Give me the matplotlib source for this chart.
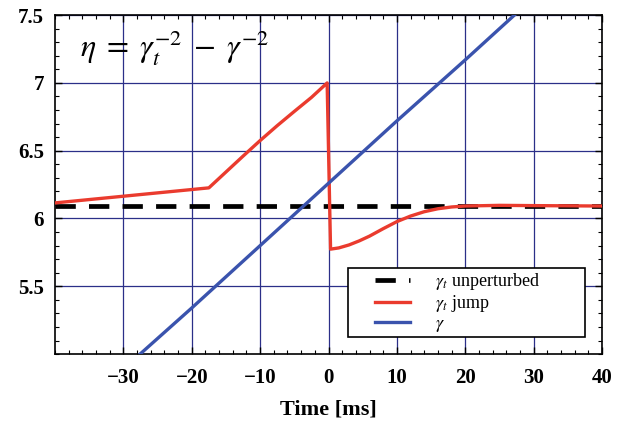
import matplotlib
matplotlib.use("Agg")
import matplotlib.pyplot as plt
from matplotlib.patches import Rectangle
from matplotlib.ticker import MultipleLocator

plt.rcParams['font.family'] = ['Liberation Serif', 'DejaVu Serif']
plt.rcParams['mathtext.fontset'] = 'stix'

# gamma_t unperturbed (flat)
t_unpert = [-40, 40]
eta_unpert = [6.092, 6.092]

# gamma_t with the jump at t = 0
t_jump = [-40, -17.5, -15, -12.5, -10, -7.5, -5, -2.5, -0.2,
          0.3, 1.5, 3, 4.5, 6, 8, 10, 12, 14, 16, 18, 20, 25, 30, 40]
eta_jump = [6.115, 6.226, 6.343, 6.46, 6.575, 6.685, 6.79, 6.893, 7.0,
            5.774, 5.783, 5.805, 5.835, 5.87, 5.925, 5.977, 6.018, 6.05,
            6.072, 6.085, 6.092, 6.097, 6.095, 6.092]

# gamma (linear ramp)
t_gamma = [-30, -20, -10, 0, 10, 20, 30]
gamma = [4.89, 5.34, 5.80, 6.26, 6.72, 7.17, 7.63]

xticks = [-30, -20, -10, 0, 10, 20, 30, 40]
yticks = [5.5, 6, 6.5, 7, 7.5]
yticklabels = ["5.5", "6", "6.5", "7", "7.5"]

red = "#ea3b2e"
blue = "#3a53ad"
navy = "#2b2f88"

fig = plt.figure(figsize=(6.23, 4.21), dpi=100)
ax = fig.add_axes([0.0883, 0.159, 0.878, 0.805])

ax.plot(t_unpert, eta_unpert, color="black", lw=3.4, dashes=(4.3, 2.8),
        label=r"$\gamma_t$ unperturbed", zorder=3)
ax.plot(t_jump, eta_jump, color=red, lw=2.4, label=r"$\gamma_t$ jump",
        zorder=4)
ax.plot(t_gamma, gamma, color=blue, lw=2.4, label=r"$\gamma$", zorder=4)

ax.set_xlim(-40, 40)
ax.set_ylim(5.0, 7.5)
ax.set_xticks(xticks)
ax.set_yticks(yticks)
ax.set_yticklabels(yticklabels)
ax.xaxis.set_minor_locator(MultipleLocator(2))
ax.yaxis.set_minor_locator(MultipleLocator(0.1))
ax.grid(True, which="major", color=navy, lw=0.9)
ax.set_axisbelow(True)

ax.tick_params(which="both", direction="in", top=True, right=True,
               color="black", labelsize=15)
ax.tick_params(axis="x", pad=10)
ax.tick_params(axis="y", pad=8)
ax.tick_params(which="major", length=5, width=1)
ax.tick_params(which="minor", length=3, width=0.8)
for lab in ax.get_xticklabels() + ax.get_yticklabels():
    lab.set_fontweight("bold")
for sp in ax.spines.values():
    sp.set_linewidth(1.2)

ax.set_xlabel("Time [ms]", fontsize=16, fontweight="bold", labelpad=8)

ax.text(0.046, 0.879, r"$\eta\;=\;\gamma_t^{-2}\;-\;\gamma^{-2}$",
        transform=ax.transAxes, fontsize=23, va="baseline", ha="left")

# legend box drawn separately so the padding can match
box = Rectangle((0.5356, 0.051), 0.434, 0.202, transform=ax.transAxes,
                facecolor="white", edgecolor="black", lw=1.2, zorder=6)
ax.add_patch(box)
leg = ax.legend(loc="upper left", bbox_to_anchor=(0.585, 0.245),
                frameon=False, fontsize=13, borderpad=0, borderaxespad=0,
                handlelength=1.95, handletextpad=1.4, labelspacing=0.06)
leg.set_zorder(7)

fig.savefig("out.png", dpi=100)
